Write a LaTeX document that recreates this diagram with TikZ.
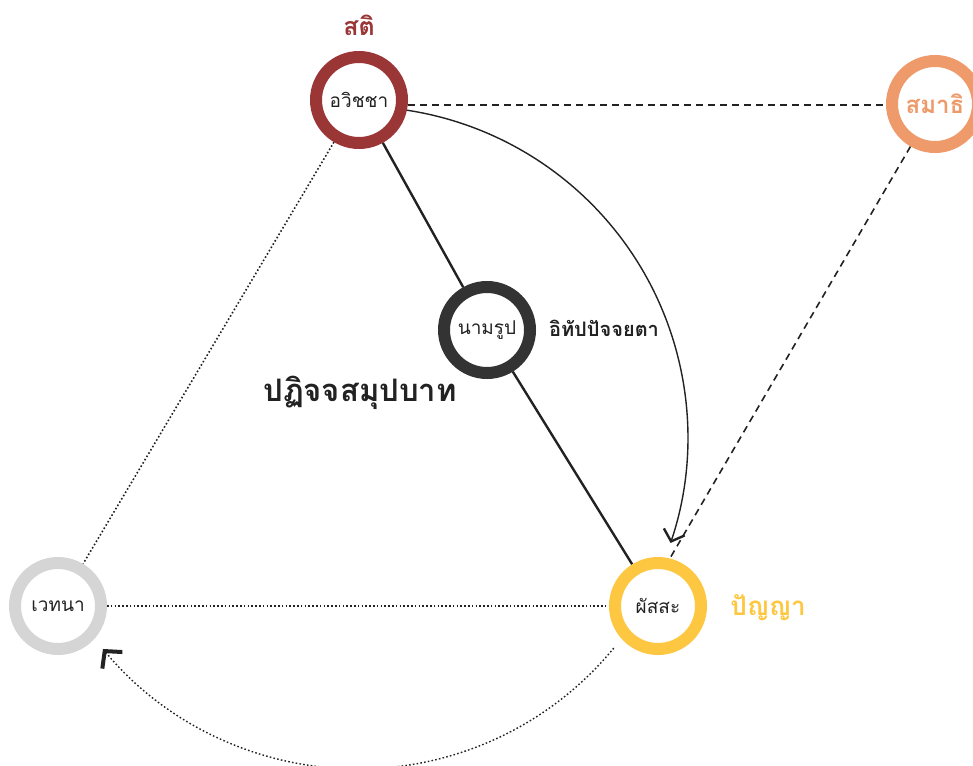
\documentclass[tikz,border=0pt]{standalone}
\usepackage{fontspec}
\newfontfamily\thai[Script=Thai]{Loma}
\usetikzlibrary{arrows.meta,calc,backgrounds}
\definecolor{avred}{HTML}{9B3636}
\definecolor{samorange}{HTML}{EE9A6A}
\definecolor{namdark}{HTML}{333333}
\definecolor{vedgray}{HTML}{D5D5D5}
\definecolor{phayellow}{HTML}{FDC742}
\definecolor{ink}{HTML}{222222}
\tikzset{
  ring/.style={circle, draw=#1, line width=12pt, minimum size=86pt, inner sep=0pt, fill=white, font=\thai\fontsize{19}{22}\selectfont, text=ink},
  lbl/.style={font=\thai\bfseries\fontsize{25}{28}\selectfont},
  dashline/.style={line width=1.6pt, dash pattern=on 7pt off 5pt, ink},
  dotline/.style={line width=1.6pt, dash pattern=on 1.6pt off 2.2pt, ink},
  solidline/.style={line width=2.4pt, ink},
  chev/.style={-{Straight Barb[length=10pt, width=22pt, line width=2.4pt]}},
  bigchev/.style={-{Straight Barb[length=12pt, width=26pt, line width=4pt]}}
}
\begin{document}
\begin{tikzpicture}[x=1pt, y=-1pt]
\useasboundingbox (0,0) rectangle (973,765);
% nodes
\node[ring=avred] (av) at (359,100) {อวิชชา};
\node[ring=samorange, text=samorange, font=\thai\bfseries\fontsize{24}{28}\selectfont] (sa) at (935,104) {สมาธิ};
\node[ring=namdark] (na) at (487,330) {นามรูป};
\node[ring=vedgray] (ve) at (58,606) {เวทนา};
\node[ring=phayellow] (ph) at (658,606) {ผัสสะ};
% labels
\node[lbl, text=avred] (sati) at (359,25) {สติ};
\node[lbl, text=phayellow, font=\thai\bfseries\fontsize{26}{28}\selectfont] (panya) at (768,608) {ปัญญา};
\node[font=\thai\bfseries\fontsize{20}{24}\selectfont, text=ink] (itap) at (604,328) {อิทัปปัจจยตา};
\node[font=\thai\bfseries\fontsize{31}{34}\selectfont, text=ink] (pati) at (360,393) {ปฏิจจสมุปบาท};
% arc helper
\coordinate (arcc) at (358,438);
\coordinate (b1) at ($(arcc)+(39.4:331)$);
% connectors
\begin{pgfonlayer}{background}
\draw[dashline] (av.east |- 0,105) -- (sa.west |- 0,105);
\draw[dashline] (sa.240) -- (ph.76);
\draw[solidline] (av) -- (na);
\draw[solidline] (na) -- (ph);
\draw[dotline] (av) -- (ve);
\draw[dotline] (ve) -- (ph);
\draw[line width=1.4pt, ink, chev] (av.-12) arc[start angle=-81.3, end angle=18.6, radius=331];
\draw[dotline, line width=1.4pt, bigchev] (b1) arc[start angle=39.4, end angle=140.4, radius=331];
\end{pgfonlayer}
\end{tikzpicture}
\end{document}
